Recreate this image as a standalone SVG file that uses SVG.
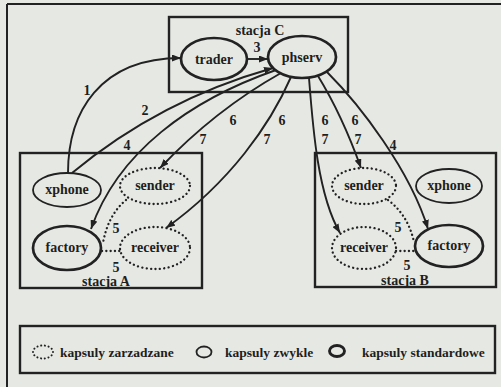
<svg xmlns="http://www.w3.org/2000/svg" width="501" height="387" viewBox="0 0 501 387">
  <defs>
    <style>
      .box { fill: none; stroke: #222; stroke-width: 2.4; }
      .plain { fill: none; stroke: #222; stroke-width: 1.8; }
      .std { fill: none; stroke: #222; stroke-width: 2.7; }
      .mgd { fill: none; stroke: #222; stroke-width: 2.3; stroke-dasharray: 0.1 4.3; stroke-linecap: round; }
      .edge { fill: none; stroke: #222; stroke-width: 1.9; }
      .arrow { marker-end: url(#ah); }
      .dots { fill: none; stroke: #222; stroke-width: 2.3; stroke-dasharray: 0.1 4.2; stroke-linecap: round; }
      text { font-family: "Liberation Serif", "Times New Roman", serif; font-weight: bold; fill: #1e1e1e; }
      .name { font-size: 14px; text-anchor: middle; }
      .num { font-size: 14px; text-anchor: middle; }
      .legend { font-size: 13.5px; }
    </style>
    <marker id="ah" viewBox="0 0 9 7" refX="9" refY="3.5" markerWidth="9" markerHeight="7" markerUnits="userSpaceOnUse" orient="auto">
      <path d="M0,0 L9,3.5 L0,7 z" fill="#222"/>
    </marker>
  </defs>

  <!-- page -->
  <rect x="0" y="0" width="501" height="387" fill="#e6e9e3"/>
  <g id="frame" fill="none" stroke="#222" stroke-width="2">
    <line x1="7" y1="4" x2="501" y2="4"/>
    <line x1="7" y1="4" x2="7" y2="387"/>
  </g>

  <!-- stations -->
  <g id="stacja-C">
    <rect class="box" x="169" y="17" width="179" height="75"/>
    <text x="260" y="35" style="font-size:14px" text-anchor="middle">stacja C</text>
  </g>
  <g id="stacja-A">
    <rect class="box" x="20" y="153" width="182" height="135"/>
    <text x="106" y="286" style="font-size:14px" text-anchor="middle">stacja A</text>
  </g>
  <g id="stacja-B">
    <rect class="box" x="315" y="153" width="181" height="134"/>
    <text x="405" y="285" style="font-size:14px" text-anchor="middle">stacja B</text>
  </g>

  <!-- capsules -->
  <g id="trader">
    <ellipse class="std" cx="214" cy="59" rx="33" ry="21"/>
    <text class="name" x="214" y="64">trader</text>
  </g>
  <g id="phserv">
    <ellipse class="std" cx="302" cy="57" rx="34" ry="21"/>
    <text class="name" x="302" y="62">phserv</text>
  </g>
  <g id="xphone-A">
    <ellipse class="plain" cx="67" cy="190" rx="34" ry="17"/>
    <text class="name" x="67" y="194">xphone</text>
  </g>
  <g id="sender-A">
    <ellipse class="mgd" cx="155" cy="186" rx="35" ry="18"/>
    <text class="name" x="155" y="190">sender</text>
  </g>
  <g id="factory-A">
    <ellipse class="std" cx="67" cy="248" rx="34" ry="22"/>
    <text class="name" x="67" y="252">factory</text>
  </g>
  <g id="receiver-A">
    <ellipse class="mgd" cx="155" cy="248" rx="35" ry="21"/>
    <text class="name" x="155" y="252">receiver</text>
  </g>
  <g id="sender-B">
    <ellipse class="mgd" cx="364" cy="186" rx="32" ry="18"/>
    <text class="name" x="364" y="190">sender</text>
  </g>
  <g id="xphone-B">
    <ellipse class="plain" cx="449" cy="186" rx="33" ry="17"/>
    <text class="name" x="449" y="190">xphone</text>
  </g>
  <g id="receiver-B">
    <ellipse class="mgd" cx="364" cy="248" rx="32" ry="21"/>
    <text class="name" x="364" y="252">receiver</text>
  </g>
  <g id="factory-B">
    <ellipse class="std" cx="449" cy="246" rx="34" ry="21"/>
    <text class="name" x="449" y="250">factory</text>
  </g>

  <!-- connectors -->
  <g id="connectors">
    <path class="edge arrow" d="M68,173 C68,112 100,58 181,58"/>
    <path class="edge arrow" d="M72,173 Q160,100 273,68"/>
    <path class="edge arrow" d="M247,59 L268,59"/>
    <path class="edge arrow" d="M276,70 C190,100 118,152 91,229"/>
    <path class="edge arrow" d="M281,73 Q215,110 160,168"/>
    <path class="edge arrow" d="M291,77 C270,125 230,182 166,228"/>
    <path class="edge arrow" d="M309,78 C313,130 318,195 340,233"/>
    <path class="edge arrow" d="M318,76 Q342,115 361,168"/>
    <path class="edge arrow" d="M327,72 C360,105 410,170 428,229"/>

    <path class="dots" d="M126,200 Q108,215 103,243"/>
    <path class="dots" d="M102,251 L120,251"/>
    <path class="dots" d="M388,200 Q408,215 414,242"/>
    <path class="dots" d="M396,251 L416,251"/>

    <text class="num" x="87" y="95">1</text>
    <text class="num" x="145" y="115">2</text>
    <text class="num" x="257" y="52">3</text>
    <text class="num" x="127" y="150">4</text>
    <text class="num" x="233" y="125">6</text>
    <text class="num" x="203" y="144">7</text>
    <text class="num" x="282" y="125">6</text>
    <text class="num" x="267" y="144">7</text>
    <text class="num" x="325" y="125">6</text>
    <text class="num" x="325" y="144">7</text>
    <text class="num" x="355" y="125">6</text>
    <text class="num" x="358" y="144">7</text>
    <text class="num" x="393" y="150">4</text>
    <text class="num" x="116" y="233">5</text>
    <text class="num" x="116" y="272">5</text>
    <text class="num" x="398" y="232">5</text>
    <text class="num" x="407" y="270">5</text>
  </g>

  <!-- key -->
  <g id="legend">
    <rect class="box" x="20" y="326" width="475" height="47"/>
    <ellipse cx="43" cy="352" rx="10" ry="6.5" fill="none" stroke="#222" stroke-width="2" stroke-dasharray="0.1 3.6" stroke-linecap="round"/>
    <text class="legend" x="60" y="357">kapsuly zarzadzane</text>
    <ellipse cx="204" cy="352" rx="7.5" ry="5.5" fill="none" stroke="#222" stroke-width="1.8"/>
    <text class="legend" x="225" y="357">kapsuly zwykle</text>
    <ellipse cx="337" cy="351" rx="7.5" ry="5.5" fill="none" stroke="#222" stroke-width="2.9"/>
    <text class="legend" x="362" y="357">kapsuly standardowe</text>
  </g>
</svg>
